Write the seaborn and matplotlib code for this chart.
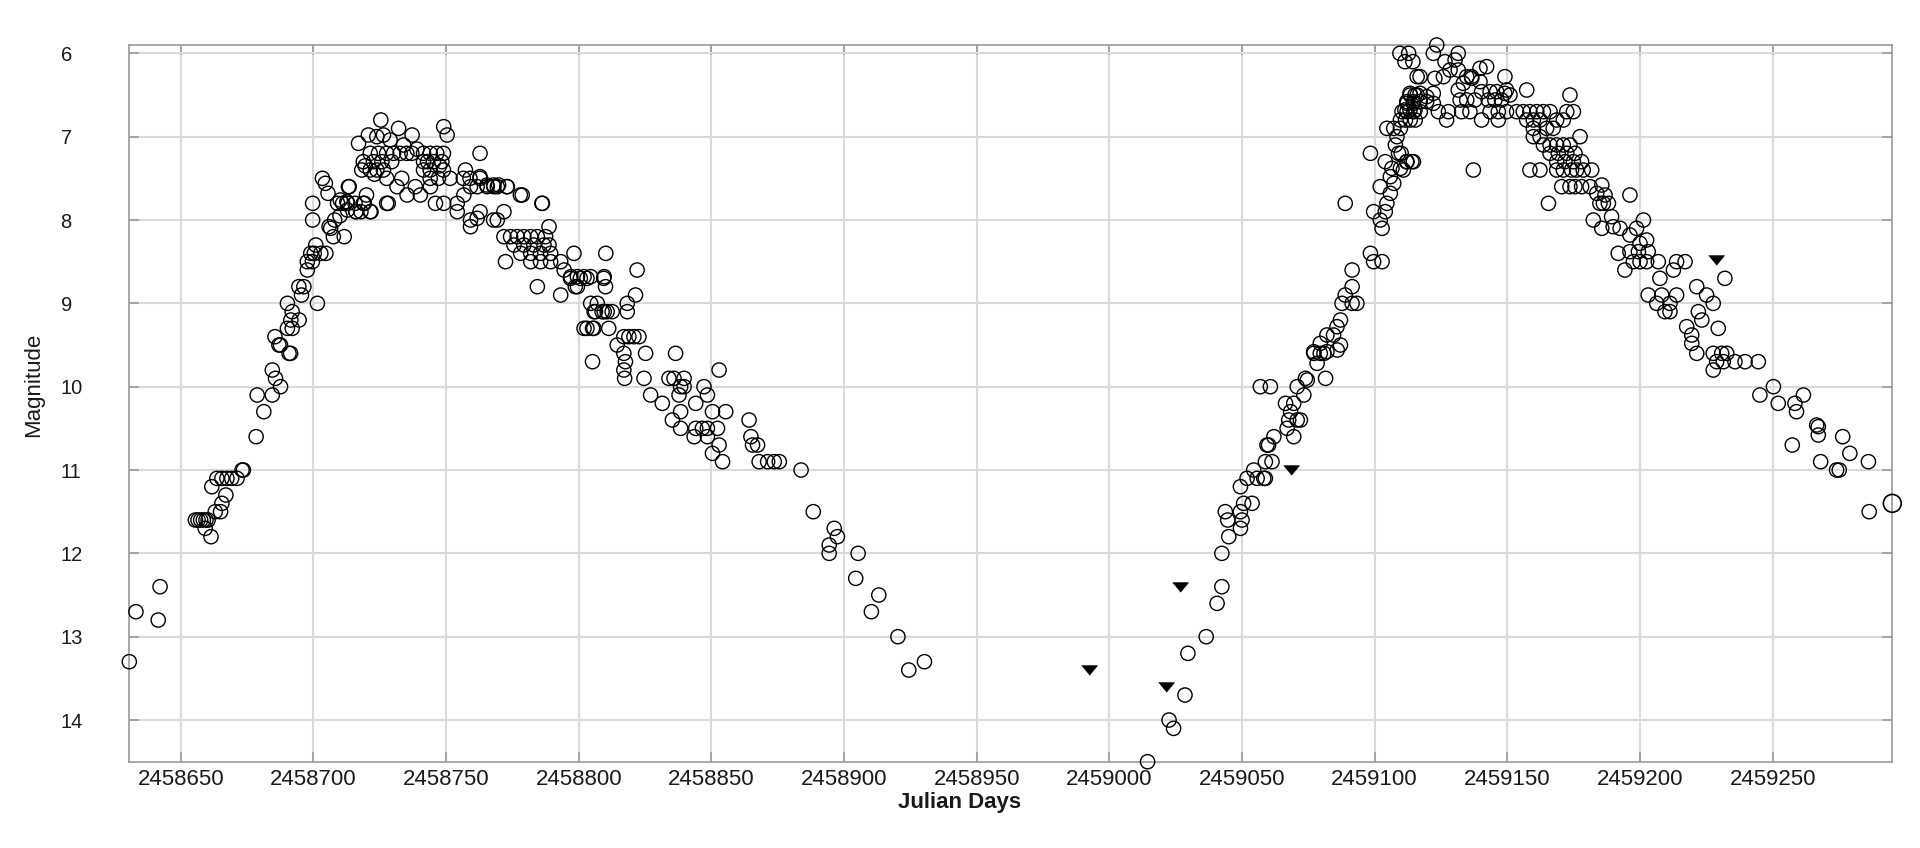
import matplotlib
matplotlib.use("Agg")
import matplotlib.pyplot as plt
import seaborn as sns

# Julian days are stored as offsets from JD0
JD0 = 2458600

# --- first season, rising branch ---
rise1_day = [30.6, 33.1, 41.5, 42.2,
             55.5, 56.5, 57.5, 58.5, 59.5, 60.3, 59.2, 61.4, 63.0, 65.0, 65.5, 67.0, 61.7,
             63.6, 65.5, 67.4, 69.2, 71.2, 73.1, 73.6,
             78.4, 78.8, 81.3, 84.5, 84.5, 85.7, 87.6,
             87.0, 85.5, 87.6, 90.8, 91.4, 90.2, 92.0, 91.5, 94.6, 90.2, 92.0,
             94.5, 96.4, 95.5, 97.7, 97.7, 99.6, 99.0, 100.9, 100.3, 102.8, 104.7,
             101.5, 99.7, 99.7, 103.4, 104.5, 105.5, 105.9, 106.5, 107.5, 111.6, 108.0, 110.0, 112.8,
             109.1, 111.0, 112.9, 113.5, 116.0, 117.9, 119.2, 121.7]
rise1_mag = [13.3, 12.7, 12.8, 12.4,
             11.6, 11.6, 11.6, 11.6, 11.6, 11.6, 11.7, 11.8, 11.5, 11.5, 11.4, 11.3, 11.2,
             11.1, 11.1, 11.1, 11.1, 11.1, 11.0, 11.0,
             10.6, 10.1, 10.3, 10.1, 9.8, 9.9, 10.0,
             9.5, 9.4, 9.5, 9.6, 9.6, 9.3, 9.3, 9.2, 9.2, 9.0, 9.1,
             8.8, 8.8, 8.9, 8.6, 8.5, 8.5, 8.4, 8.3, 8.4, 8.4, 8.4,
             9.0, 8.0, 7.8, 7.5, 7.56, 7.68, 8.08, 8.1, 8.2, 8.2, 8.0, 7.95, 7.88,
             7.8, 7.8, 7.8, 7.6, 7.9, 7.9, 7.8, 7.9]

# --- first season, maximum ---
peak1_day = [125.4, 132.1, 149.1, 150.4, 137.2, 117.0, 120.7, 123.9, 126.4, 128.9,
             121.4, 124.5, 127.6, 130.2, 132.7, 135.2, 137.1, 141.5, 144.0, 146.5, 149.0,
             118.8, 122.6, 125.8, 141.5, 145.2, 148.4,
             118.2, 121.4, 123.9, 126.4, 141.5, 144.0, 149.0,
             127.6, 133.3, 144.0, 147.1, 151.5, 156.5, 159.0, 162.8,
             162.8, 157.3, 135.3, 140.3, 131.5, 138.4,
             113.2, 110.1, 112.6, 115.7, 118.8, 121.4, 127.6, 128.2,
             119.5, 123.0, 129.5, 134.0, 139.0, 143.0, 147.5, 116.0, 120.0]
peak1_mag = [6.8, 6.9, 6.88, 6.98, 6.98, 7.08, 6.98, 7.0, 6.98, 7.04,
             7.2, 7.2, 7.2, 7.2, 7.2, 7.2, 7.2, 7.2, 7.2, 7.2, 7.2,
             7.3, 7.3, 7.3, 7.3, 7.3, 7.3,
             7.4, 7.4, 7.4, 7.4, 7.4, 7.4, 7.4,
             7.5, 7.5, 7.5, 7.5, 7.5, 7.5, 7.5, 7.5,
             7.2, 7.4, 7.7, 7.7, 7.6, 7.6,
             7.6, 7.76, 7.78, 7.8, 7.8, 7.9, 7.8, 7.8,
             7.35, 7.45, 7.3, 7.1, 7.15, 7.3, 7.35, 7.9, 7.7]

# --- first season, fading branch ---
fade1_day = [144.1, 146.0, 149.1, 154.2, 156.7, 159.2, 161.7, 165.5, 168.0, 169.3, 173.1, 178.7, 186.3,
             154.2, 159.2, 159.2, 161.7, 169.3, 171.8,
             162.8, 165.4, 167.9, 169.8, 172.9, 162.8, 167.9,
             171.8, 174.3, 176.8, 179.3, 181.9, 184.4, 187.5,
             175.6, 179.3, 183.1, 186.9, 188.8,
             178.1, 181.9, 185.6, 189.4, 181.9, 185.6, 189.4, 193.2,
             172.4, 188.8, 198.2, 210.2, 186.1, 178.0,
             194.5, 197.0, 199.5, 202.0, 204.5, 209.6, 199.5, 184.4, 193.2,
             196.9, 200.6, 203.1, 209.4, 210.1, 198.7, 222.0, 221.4,
             204.5, 207.0, 209.6, 205.8, 206.3, 208.8, 210.7, 212.6, 218.3, 218.3,
             202.0, 205.2, 203.1, 205.7, 211.3, 205.2,
             217.0, 218.9, 220.8, 222.7, 214.5, 217.0, 217.6, 217.0, 217.3, 225.2,
             236.5, 224.6, 234.0, 235.9, 239.7, 252.9,
             227.1, 231.5, 237.8, 238.4, 239.7, 247.2, 248.5, 238.4, 244.1, 250.4, 255.4,
             235.3, 238.4, 244.1, 246.6, 248.5, 252.3, 243.5, 248.5, 252.9, 250.4, 254.2,
             264.2, 264.9, 265.5, 267.4, 268.0, 271.2, 273.7, 275.6, 283.8,
             288.4, 296.3, 297.5, 294.4, 294.4, 305.3, 304.4, 313.1, 310.3, 320.3, 324.4, 330.3]
fade1_mag = [7.6, 7.8, 7.8, 7.8, 7.7, 7.6, 7.6, 7.6, 7.6, 7.6, 7.6, 7.7, 7.8,
             7.9, 8.0, 8.08, 7.98, 8.0, 7.9,
             7.48, 7.58, 7.58, 7.58, 7.6, 7.9, 8.0,
             8.2, 8.2, 8.2, 8.2, 8.2, 8.2, 8.2,
             8.3, 8.3, 8.3, 8.3, 8.3,
             8.4, 8.4, 8.4, 8.4, 8.5, 8.5, 8.5, 8.5,
             8.5, 8.08, 8.4, 8.4, 7.8, 7.7,
             8.6, 8.68, 8.68, 8.68, 8.68, 8.68, 8.8, 8.8, 8.9,
             8.7, 8.7, 8.7, 8.7, 8.8, 8.8, 8.6, 8.9,
             9.0, 9.0, 9.1, 9.1, 9.1, 9.1, 9.1, 9.1, 9.0, 9.1,
             9.3, 9.3, 9.3, 9.3, 9.3, 9.7,
             9.4, 9.4, 9.4, 9.4, 9.5, 9.6, 9.7, 9.8, 9.9, 9.6,
             9.6, 9.9, 9.9, 9.9, 9.9, 9.8,
             10.1, 10.2, 10.1, 10.0, 10.0, 10.0, 10.1, 10.3, 10.2, 10.3, 10.3,
             10.4, 10.5, 10.5, 10.5, 10.5, 10.5, 10.6, 10.6, 10.7, 10.8, 10.9,
             10.4, 10.6, 10.7, 10.7, 10.9, 10.9, 10.9, 10.9, 11.0,
             11.5, 11.7, 11.8, 11.9, 12.0, 12.0, 12.3, 12.5, 12.7, 13.0, 13.4, 13.3]

# --- second season, rising branch ---
rise2_day = [414.4, 422.5, 424.2, 428.5, 429.6, 436.5, 440.6, 442.4, 442.4, 445.0, 443.7, 444.6,
             449.4, 450.0, 450.6, 453.8, 449.4, 449.4, 451.9, 454.4, 455.7, 458.2, 458.8,
             458.8, 461.3, 459.4, 460.0, 462.0, 467.0, 469.5, 470.8, 468.3, 467.6, 466.4, 469.5,
             472.0, 473.3, 470.8, 473.9, 474.6, 456.9, 460.7, 481.5, 478.3, 477.1, 480.9, 485.9,
             477.0, 479.5, 482.0, 479.5, 482.0, 484.5, 487.1, 487.1, 485.8, 487.7, 491.5, 493.3,
             488.9, 491.5, 491.5, 498.4, 499.6, 502.8, 488.9, 504.6, 504.0, 499.6, 502.1, 502.8,
             505.9, 507.2, 502.1, 505.9, 504.0, 506.5, 509.7, 512.2, 514.0, 498.4, 508.4, 507.8, 509.0,
             510.0, 512.0, 514.6, 510.8]
rise2_mag = [14.5, 14.0, 14.1, 13.7, 13.2, 13.0, 12.6, 12.4, 12.0, 11.8, 11.5, 11.6,
             11.7, 11.6, 11.4, 11.4, 11.5, 11.2, 11.1, 11.0, 11.1, 11.1, 11.1,
             10.9, 10.9, 10.7, 10.7, 10.6, 10.5, 10.6, 10.4, 10.3, 10.4, 10.2, 10.2,
             10.4, 10.1, 10.0, 9.9, 9.92, 10.0, 10.0, 9.9, 9.72, 9.6, 9.6, 9.56,
             9.58, 9.6, 9.58, 9.48, 9.38, 9.38, 9.5, 9.2, 9.28, 9.0, 9.0, 9.0,
             8.9, 8.8, 8.6, 8.4, 8.5, 8.5, 7.8, 7.8, 7.9, 7.9, 8.0, 8.1,
             7.48, 7.56, 7.6, 7.68, 7.3, 7.38, 7.38, 7.3, 7.3, 7.2, 7.0, 7.1, 7.2,
             7.2, 7.3, 7.3, 7.4]

# --- second season, maximum ---
peak2_day = [504.6, 507.2, 509.7, 509.7, 511.6, 513.4, 515.3, 510.3, 512.2, 514.7, 517.2,
             513.4, 516.0, 514.7, 512.2, 516.0, 512.8, 514.4,
             509.5, 511.4, 523.4, 522.1, 531.5, 530.3, 526.5, 528.4, 531.5,
             517.1, 522.7, 525.9, 534.7, 536.5, 539.7, 542.2,
             513.3, 515.2, 517.1, 519.6, 522.1, 512.1, 514.6, 517.1, 519.6,
             511.4, 513.3, 515.2, 522.1, 524.0, 527.8, 527.1,
             531.5, 533.4, 536.6, 539.7, 532.2, 534.7, 537.8, 540.3, 543.5, 546.0, 549.7,
             542.8, 545.3, 547.8, 549.0, 532.8, 535.9, 543.5, 546.6, 549.7, 540.3, 546.6,
             549.1, 551.0, 537.2, 557.3, 553.5, 556.0, 558.5, 561.1, 563.6, 566.1,
             557.3, 559.8, 562.3, 559.8, 562.3, 564.8, 567.3, 568.6, 571.1, 572.4, 573.6, 574.9,
             559.8, 563.6, 566.1, 568.6, 571.1, 573.6, 577.4, 566.1, 569.2, 572.4, 575.5,
             568.6, 571.7, 574.9, 578.0, 558.5, 562.3, 568.6, 571.1, 574.2, 576.1, 578.6, 581.8,
             570.5, 573.6, 575.5, 578.0, 581.2, 565.5]
peak2_mag = [6.9, 6.9, 6.9, 6.8, 6.8, 6.8, 6.8, 6.7, 6.7, 6.7, 6.7,
             6.5, 6.5, 6.6, 6.6, 6.28, 6.0, 6.1,
             6.0, 6.1, 5.9, 6.0, 6.0, 6.08, 6.1, 6.2, 6.2,
             6.28, 6.3, 6.28, 6.28, 6.28, 6.18, 6.16,
             6.48, 6.5, 6.48, 6.52, 6.48, 6.58, 6.58, 6.58, 6.58,
             6.68, 6.68, 6.68, 6.6, 6.7, 6.7, 6.8,
             6.44, 6.36, 6.3, 6.34, 6.56, 6.56, 6.56, 6.46, 6.46, 6.46, 6.44,
             6.56, 6.56, 6.56, 6.48, 6.7, 6.7, 6.7, 6.7, 6.7, 6.8, 6.8,
             6.28, 6.5, 7.4, 6.44, 6.7, 6.7, 6.7, 6.7, 6.7, 6.7,
             6.8, 6.8, 6.8, 6.9, 7.0, 6.9, 6.9, 6.8, 6.8, 6.7, 6.5, 6.7,
             7.0, 7.1, 7.1, 7.1, 7.1, 7.1, 7.0, 7.2, 7.2, 7.2, 7.2,
             7.3, 7.3, 7.3, 7.3, 7.4, 7.4, 7.4, 7.4, 7.4, 7.4, 7.4, 7.4,
             7.6, 7.6, 7.6, 7.6, 7.6, 7.8]

# --- second season, fading branch ---
fade2_day = [585.6, 583.7, 586.8, 586.2, 588.1, 584.9, 596.2, 582.4, 585.6, 589.3, 589.9, 592.5,
             596.2, 601.3, 598.7, 600.0, 602.5, 591.8, 596.2, 599.4, 603.1, 594.3, 597.5, 600.0,
             602.5, 606.9, 613.8, 617.0, 612.6, 607.5, 632.0, 621.4, 625.1, 627.6, 603.1, 606.3,
             608.2, 611.3, 613.8, 609.4, 611.3, 622.0, 623.3, 617.6, 619.5, 619.5, 621.4, 629.5,
             627.6, 630.8, 632.7, 628.9, 631.4, 635.8, 639.6, 644.6, 627.6,
             645.2, 650.3, 652.1, 658.4, 661.6, 659.0, 666.6,
             657.4, 667.2, 667.2, 676.4, 679.1, 686.1, 668.1, 674.1, 675.1, 686.4]
fade2_mag = [7.58, 7.68, 7.7, 7.8, 7.8, 7.8, 7.7, 8.0, 8.1, 7.96, 8.08, 8.1,
             8.18, 8.0, 8.1, 8.28, 8.24, 8.4, 8.38, 8.38, 8.38, 8.6, 8.5, 8.5,
             8.5, 8.5, 8.5, 8.5, 8.6, 8.7, 8.7, 8.8, 8.9, 9.0, 8.9, 9.0,
             8.9, 9.0, 8.9, 9.1, 9.1, 9.1, 9.2, 9.28, 9.38, 9.48, 9.6, 9.3,
             9.6, 9.6, 9.6, 9.7, 9.7, 9.7, 9.7, 9.7, 9.8,
             10.1, 10.0, 10.2, 10.2, 10.1, 10.3, 10.46,
             10.7, 10.48, 10.58, 10.6, 10.8, 10.9, 10.9, 11.0, 11.0, 11.5]

# last (highlighted) observation
last_day = [695.1]
last_mag = [11.4]

# fainter-than limits (filled down triangles)
limit_day = [392.5, 421.5, 426.7, 468.5, 628.5]
limit_mag = [13.4, 13.6, 12.4, 11.0, 8.48]

obs_day = rise1_day + peak1_day + fade1_day + rise2_day + peak2_day + fade2_day
obs_mag = rise1_mag + peak1_mag + fade1_mag + rise2_mag + peak2_mag + fade2_mag
obs_jd = [JD0 + d for d in obs_day]
limit_jd = [JD0 + d for d in limit_day]
last_jd = [JD0 + d for d in last_day]

x_ticks = [2458650, 2458700, 2458750, 2458800, 2458850, 2458900, 2458950,
           2459000, 2459050, 2459100, 2459150, 2459200, 2459250]
y_ticks = [6, 7, 8, 9, 10, 11, 12, 13, 14]

sns.set_style("whitegrid")
plt.rcParams["font.family"] = ["Liberation Sans", "DejaVu Sans"]

W, H = 1920, 848
fig = plt.figure(figsize=(W / 100, H / 100), dpi=100)
left, right, top, bottom = 129.3, 1892.3, 45.0, 761.7
ax = fig.add_axes([left / W, 1 - bottom / H, (right - left) / W, (bottom - top) / H])

sns.scatterplot(x=obs_jd, y=obs_mag, ax=ax, marker="o", s=105,
                facecolor="none", edgecolor="black", linewidth=1.0, zorder=3, clip_on=False)
sns.scatterplot(x=last_jd, y=last_mag, ax=ax, marker="o", s=165,
                facecolor="none", edgecolor="black", linewidth=1.2, zorder=3, clip_on=False)
sns.scatterplot(x=limit_jd, y=limit_mag, ax=ax,
                marker=[(-1, 0.6), (1, 0.6), (0, -0.6)], s=130,
                color="black", edgecolor="black", linewidth=0.5, zorder=4)

ax.set_xlim(2458630.6, 2459295.1)
ax.set_ylim(14.5, 5.9)
ax.set_xticks(x_ticks, [str(v) for v in x_ticks])
ax.set_yticks(y_ticks, [str(v) for v in y_ticks])

ax.grid(True, color="#dadada", linewidth=1.5)
ax.set_axisbelow(True)
for sp in ax.spines.values():
    sp.set_color("#9a9a9a")
    sp.set_linewidth(1.2)

ax.tick_params(axis="both", direction="in", length=7, width=1.2, color="#9a9a9a",
               top=True, right=True, bottom=True, left=True, labelcolor="#1a1a1a")
ax.tick_params(axis="x", labelsize=16, pad=5)
ax.tick_params(axis="y", labelsize=14.5, pad=49.5)
for lbl in ax.get_yticklabels():
    lbl.set_horizontalalignment("left")

ax.set_xlabel("Julian Days", fontsize=16, fontweight="bold", color="#1a1a1a")
ax.set_ylabel("Magnitude", fontsize=16, color="#1a1a1a")
ax.xaxis.set_label_coords((960 - left) / (right - left), (bottom - 792) / (bottom - top))
ax.xaxis.label.set_verticalalignment("top")
ax.yaxis.set_label_coords((44 - left) / (right - left), 0.526)

fig.savefig("out.png", dpi=100)
